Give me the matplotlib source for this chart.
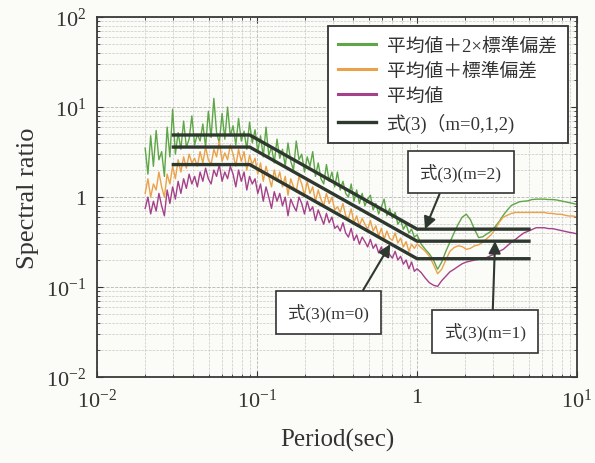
import numpy as np
import matplotlib
matplotlib.use("Agg")
import matplotlib.pyplot as plt

plt.rcParams['font.family'] = ['Liberation Serif', 'Noto Sans CJK JP']
plt.rcParams['mathtext.fontset'] = 'custom'
plt.rcParams['mathtext.rm'] = 'Liberation Serif'
plt.rcParams['mathtext.default'] = 'regular'

# --- data ---
# noisy part, 0.02 .. 1.0 sec (100 samples)
mean_noisy = [
    0.75, 1.0, 0.65, 0.9, 0.7, 1.1, 0.8, 0.62, 1.2, 0.85,
    1.3, 0.95, 1.5, 1.1, 1.6, 1.25, 1.8, 1.4, 1.7, 1.3,
    1.9, 1.5, 2.1, 1.6, 1.4, 2.0, 1.7, 2.3, 1.5, 1.9,
    1.6, 2.2, 1.8, 1.3, 2.0, 1.5, 1.9, 1.2, 1.7, 1.4,
    1.6, 1.1, 1.4, 0.9, 1.3, 1.0, 0.75, 1.15, 0.9, 1.1,
    0.8, 1.0, 0.62, 0.95, 0.8, 0.7, 1.0, 0.85, 0.65, 0.9,
    0.7, 0.78, 0.55, 0.72, 0.6, 0.5, 0.66, 0.52, 0.6, 0.45,
    0.48, 0.42, 0.52, 0.4, 0.36, 0.45, 0.33, 0.38, 0.3, 0.36,
    0.32, 0.28, 0.34, 0.27, 0.3, 0.24, 0.28, 0.22, 0.26, 0.23,
    0.21, 0.25, 0.2, 0.22, 0.18, 0.2, 0.16, 0.19, 0.15, 0.16,
]
std1_noisy = [
    1.1, 1.6, 1.0, 1.4, 1.2, 1.9, 1.3, 1.0, 1.8, 1.4,
    2.2, 1.6, 2.6, 1.9, 2.8, 2.1, 3.0, 2.4, 2.7, 2.2,
    3.2, 2.4, 3.6, 2.6, 2.3, 3.4, 2.8, 4.2, 2.5, 3.1,
    2.6, 3.8, 3.0, 2.2, 3.4, 2.5, 3.2, 2.0, 2.9, 2.3,
    2.7, 1.8, 2.4, 1.5, 2.2, 1.7, 1.3, 2.0, 1.5, 1.9,
    1.3, 1.7, 1.05, 1.6, 1.3, 1.15, 1.7, 1.4, 1.05, 1.5,
    1.1, 1.3, 0.9, 1.2, 0.95, 0.8, 1.1, 0.85, 1.0, 0.72,
    0.78, 0.68, 0.85, 0.62, 0.58, 0.74, 0.52, 0.62, 0.48, 0.58,
    0.5, 0.44, 0.55, 0.42, 0.48, 0.37, 0.45, 0.34, 0.42, 0.35,
    0.33, 0.4, 0.31, 0.35, 0.28, 0.32, 0.25, 0.3, 0.27, 0.3,
]
std2_noisy = [
    3.5, 1.8, 4.8, 2.2, 5.5, 2.6, 3.2, 1.7, 6.0, 2.8,
    9.5, 3.0, 5.2, 3.4, 7.0, 3.6, 4.4, 8.0, 3.8, 5.0,
    4.2, 6.5, 3.6, 9.0, 4.6, 12.5, 5.2, 4.0, 8.5, 4.4,
    10.0, 4.8, 6.2, 3.8, 7.5, 4.2, 5.4, 3.4, 6.8, 4.0,
    5.6, 3.2, 4.8, 2.8, 6.0, 2.9, 3.6, 2.4, 4.4, 2.7,
    3.4, 2.2, 4.0, 2.5, 2.0, 4.2, 2.6, 3.0, 1.9, 2.8,
    2.2, 3.2, 1.7, 2.4, 1.6, 1.4, 2.3, 1.5, 1.9, 1.3,
    1.9, 1.2, 1.5, 1.1, 1.0, 1.4, 0.9, 1.2, 0.85, 1.1,
    0.8, 0.95, 1.05, 0.72, 0.85, 0.65, 0.78, 0.95, 0.62, 0.75,
    0.58, 0.68, 0.5, 0.56, 0.44, 0.5, 0.4, 0.44, 0.36, 0.38,
]
# smooth part, 1.0 .. 10 sec (39 samples after 1.0)
mean_smooth = [
    0.145, 0.126, 0.112, 0.105, 0.102, 0.118, 0.132, 0.148, 0.158, 0.17,
    0.182, 0.19, 0.195, 0.2, 0.204, 0.204, 0.214, 0.224, 0.234, 0.25,
    0.263, 0.288, 0.316, 0.34, 0.37, 0.4, 0.417, 0.437, 0.457, 0.457,
    0.457, 0.447, 0.447, 0.437, 0.427, 0.417, 0.407, 0.4, 0.39,
]
std1_smooth = [
    0.275, 0.25, 0.22, 0.178, 0.141, 0.158, 0.2, 0.25, 0.275, 0.288,
    0.282, 0.263, 0.27, 0.288, 0.295, 0.316, 0.347, 0.38, 0.437, 0.525,
    0.6, 0.63, 0.66, 0.676, 0.676, 0.676, 0.676, 0.676, 0.676, 0.676,
    0.676, 0.66, 0.66, 0.646, 0.646, 0.63, 0.617, 0.617, 0.6,
]
std2_smooth = [
    0.30, 0.263, 0.234, 0.2, 0.158, 0.19, 0.25, 0.316, 0.4, 0.5,
    0.6, 0.646, 0.56, 0.437, 0.355, 0.363, 0.39, 0.417, 0.468, 0.537,
    0.63, 0.72, 0.81, 0.85, 0.89, 0.9, 0.91, 0.94, 0.95, 0.95,
    0.95, 0.94, 0.94, 0.93, 0.91, 0.89, 0.87, 0.85, 0.83,
]
period = np.concatenate([np.geomspace(0.02, 1.0, len(mean_noisy)),
                         np.geomspace(1.0, 10.0, len(mean_smooth) + 1)[1:]])
mean_val = mean_noisy + mean_smooth
std1_val = std1_noisy + std1_smooth
std2_val = std2_noisy + std2_smooth

# eq.(3) model lines
model_period = [0.03, 0.09, 1.0, 5.0]
model_m0 = [2.3, 2.3, 0.207, 0.207]
model_m1 = [3.6, 3.6, 0.324, 0.324]
model_m2 = [4.9, 4.9, 0.441, 0.441]

labels = ['平均値＋2×標準偏差', '平均値＋標準偏差', '平均値', '式(3)（m=0,1,2)']
c_green, c_orange, c_purple, c_model = '#5ea647', '#e9a24a', '#a5408a', '#2e382f'
paper = '#fbfbf7'

fig = plt.figure(figsize=(5.95, 4.64), dpi=100, facecolor=paper)
ax = fig.add_axes([0.163, 0.185, 0.807, 0.776], facecolor=paper)

ax.plot(period, std2_val, color=c_green, lw=1.0, label=labels[0])
ax.plot(period, std1_val, color=c_orange, lw=1.0, label=labels[1])
ax.plot(period, mean_val, color=c_purple, lw=1.0, label=labels[2])
ax.plot(model_period, model_m0, color=c_model, lw=2.4, label=labels[3])
ax.plot(model_period, model_m1, color=c_model, lw=2.4)
ax.plot(model_period, model_m2, color=c_model, lw=2.4)

ax.set_xscale('log')
ax.set_yscale('log')
ax.set_xlim(1e-2, 1e1)
ax.set_ylim(1e-2, 1e2)
ax.set_xticks([1e-2, 1e-1, 1, 1e1])
ax.set_xticklabels(['$10^{-2}$', '$10^{-1}$', '1', '$10^{1}$'])
ax.set_yticks([1e-2, 1e-1, 1, 1e1, 1e2])
ax.set_yticklabels(['$10^{-2}$', '$10^{-1}$', '1', '$10^{1}$', '$10^{2}$'])
ax.tick_params(which='both', direction='in', top=True, right=True,
               colors='#333333', labelsize=16)
ax.tick_params(which='major', length=4, pad=8)
ax.tick_params(which='minor', length=2.5)
ax.grid(True, which='major', ls='--', lw=0.6, color='#b5b5b5')
ax.grid(True, which='minor', ls='--', lw=0.5, color='#c8c8c8')
for s in ax.spines.values():
    s.set_color('#3a3a3a')
    s.set_linewidth(1.3)

ax.set_xlabel('Period(sec)', fontsize=18, color='#333333', labelpad=12)
ax.set_ylabel('Spectral ratio', fontsize=19, color='#333333', labelpad=5)

leg = ax.legend(loc='upper right', bbox_to_anchor=(0.98, 0.975), borderaxespad=0,
                fontsize=13.5, fancybox=False, framealpha=1, edgecolor='#333333',
                handlelength=2.0, handletextpad=0.6, labelspacing=0.42,
                borderpad=0.55)
leg.get_frame().set_linewidth(1.3)
for h in leg.get_lines()[:3]:
    h.set_linewidth(2.2)
for t in leg.get_texts():
    t.set_color('#333333')

box = dict(boxstyle='square,pad=0.7', fc='white', ec='#333333', lw=1.2)
arrow = dict(arrowstyle='-|>', color=c_model, lw=1.5, mutation_scale=18,
             shrinkA=0, shrinkB=0)
ax.annotate('式(3)(m=2)', xy=(1.12, 0.441), xytext=(1.88, 1.9),
            fontsize=12.5, ha='center', va='center', color='#333333', bbox=box,
            arrowprops=dict(arrow, relpos=(0.3, 0.0)))
ax.annotate('式(3)(m=1)', xy=(3.07, 0.324), xytext=(2.66, 0.0324),
            fontsize=12.5, ha='center', va='center', color='#333333', bbox=box,
            arrowprops=dict(arrow, relpos=(0.59, 1.0)))
ax.annotate('式(3)(m=0)', xy=(0.68, 0.30), xytext=(0.278, 0.0527),
            fontsize=12.5, ha='center', va='center', color='#333333', bbox=box,
            arrowprops=dict(arrow, relpos=(0.84, 1.0)))

fig.savefig('out.png', dpi=100, facecolor=paper)
